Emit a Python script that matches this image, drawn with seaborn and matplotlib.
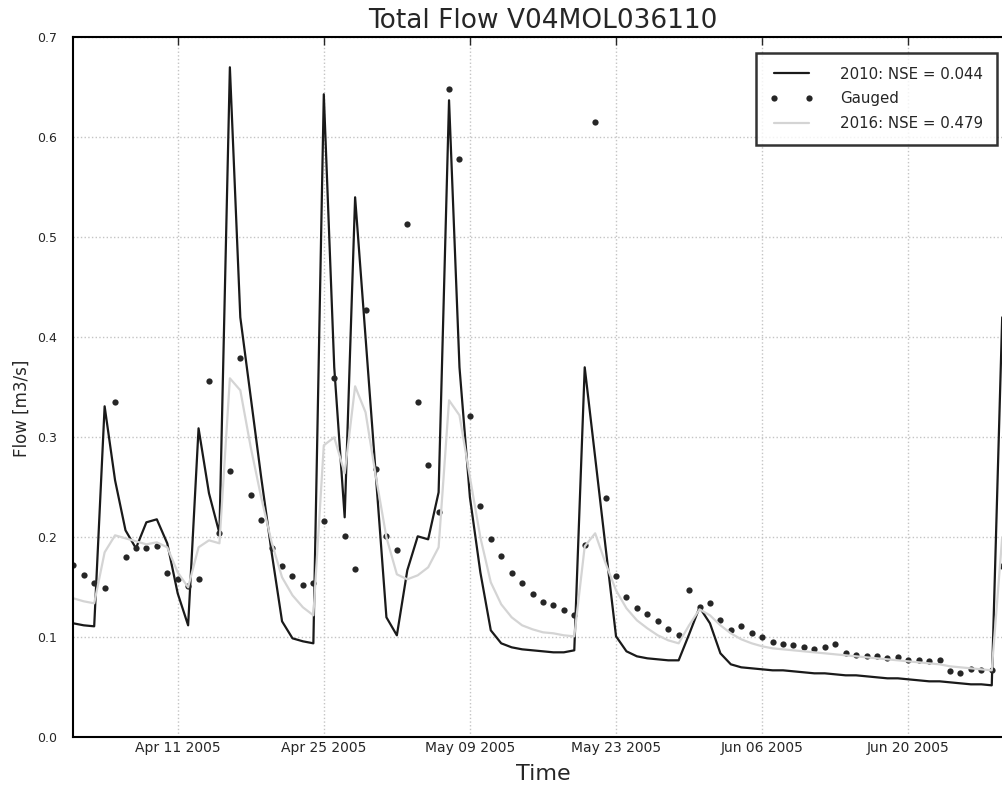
import pandas as pd
import matplotlib
matplotlib.use('Agg')
import matplotlib.pyplot as plt
import matplotlib.dates as mdates
import matplotlib.ticker as mticker
import seaborn as sns

start_date = '2005-04-01'

flow_2010 = [0.114, 0.112, 0.111, 0.331, 0.257, 0.207, 0.189, 0.215, 0.218, 0.194,
             0.144, 0.112, 0.309, 0.244, 0.204, 0.670, 0.420, 0.340, 0.260, 0.185,
             0.116, 0.099, 0.096, 0.094, 0.643, 0.370, 0.220, 0.540, 0.400, 0.260,
             0.120, 0.102, 0.167, 0.201, 0.198, 0.245, 0.637, 0.370, 0.240, 0.165,
             0.107, 0.094, 0.090, 0.088, 0.087, 0.086, 0.085, 0.085, 0.087, 0.370,
             0.280, 0.190, 0.101, 0.086, 0.081, 0.079, 0.078, 0.077, 0.077, 0.103,
             0.130, 0.114, 0.084, 0.073, 0.070, 0.069, 0.068, 0.067, 0.067, 0.066,
             0.065, 0.064, 0.064, 0.063, 0.062, 0.062, 0.061, 0.060, 0.059, 0.059,
             0.058, 0.057, 0.056, 0.056, 0.055, 0.054, 0.053, 0.053, 0.052, 0.420]

gauged = [0.172, 0.162, 0.154, 0.149, 0.335, 0.180, 0.189, 0.189, 0.191, 0.164,
          0.158, 0.151, 0.158, 0.356, 0.204, 0.266, 0.379, 0.242, 0.217, 0.189,
          0.171, 0.161, 0.152, 0.154, 0.216, 0.359, 0.201, 0.168, 0.427, 0.268,
          0.201, 0.187, 0.513, 0.335, 0.272, 0.225, 0.648, 0.578, 0.321, 0.231,
          0.198, 0.181, 0.164, 0.154, 0.143, 0.135, 0.132, 0.127, 0.122, 0.192,
          0.615, 0.239, 0.161, 0.140, 0.129, 0.123, 0.116, 0.108, 0.102, 0.147,
          0.130, 0.134, 0.117, 0.107, 0.111, 0.104, 0.100, 0.095, 0.093, 0.092,
          0.090, 0.088, 0.090, 0.093, 0.084, 0.082, 0.081, 0.081, 0.079, 0.080,
          0.077, 0.077, 0.076, 0.077, 0.066, 0.064, 0.068, 0.067, 0.067, 0.171]

flow_2016 = [0.139, 0.136, 0.134, 0.185, 0.202, 0.199, 0.196, 0.193, 0.195, 0.190,
             0.165, 0.150, 0.190, 0.197, 0.194, 0.359, 0.347, 0.290, 0.240, 0.195,
             0.160, 0.142, 0.130, 0.122, 0.292, 0.300, 0.264, 0.351, 0.325, 0.260,
             0.200, 0.163, 0.158, 0.162, 0.170, 0.190, 0.337, 0.322, 0.260, 0.200,
             0.155, 0.133, 0.120, 0.112, 0.108, 0.105, 0.104, 0.102, 0.101, 0.191,
             0.204, 0.174, 0.147, 0.129, 0.117, 0.109, 0.102, 0.097, 0.094, 0.112,
             0.128, 0.122, 0.112, 0.104, 0.098, 0.094, 0.091, 0.089, 0.088, 0.087,
             0.086, 0.085, 0.084, 0.083, 0.082, 0.081, 0.080, 0.079, 0.078, 0.077,
             0.076, 0.075, 0.074, 0.073, 0.071, 0.070, 0.069, 0.068, 0.067, 0.200]

tick_dates = ['2005-04-11', '2005-04-25', '2005-05-09', '2005-05-23', '2005-06-06', '2005-06-20']

df = pd.DataFrame({
    'Time': pd.date_range(start_date, periods=len(flow_2010), freq='D'),
    'flow_2010': flow_2010,
    'gauged': gauged,
    'flow_2016': flow_2016,
})

sns.set_style('white')
fig = plt.figure(figsize=(10.03, 7.93), dpi=100)
ax = fig.add_axes([0.0731, 0.0702, 0.9365, 0.8828])

sns.lineplot(data=df, x='Time', y='flow_2010', ax=ax, color='#1a1a1a', linewidth=1.6,
             label='2010: NSE = 0.044')
sns.lineplot(data=df, x='Time', y='gauged', ax=ax, color='#262626', linestyle='',
             marker='o', markersize=4.5, markeredgewidth=0, label='Gauged')
sns.lineplot(data=df, x='Time', y='flow_2016', ax=ax, color='#d4d4d4', linewidth=1.6,
             label='2016: NSE = 0.479')

ax.set_xlim(pd.Timestamp('2005-04-01'), pd.Timestamp('2005-06-30'))
ax.set_ylim(0, 0.7)
ax.set_xticks(pd.to_datetime(tick_dates))
ax.xaxis.set_major_formatter(mdates.DateFormatter('%b %d %Y'))
ax.yaxis.set_major_locator(mticker.MultipleLocator(0.1))
ax.yaxis.set_major_formatter(mticker.FormatStrFormatter('%.1f'))
ax.tick_params(axis='x', direction='in', top=True, length=6, width=1, labelsize=10, pad=3)
ax.tick_params(axis='y', direction='in', right=True, length=6, width=1, labelsize=9, pad=12)
ax.grid(True, linestyle=':', color='#c4c4c4', linewidth=1)

for sp in ax.spines.values():
    sp.set_color('black')
    sp.set_linewidth(1.5)

ax.set_title('Total Flow V04MOL036110', fontsize=19, pad=7)
ax.set_xlabel('Time', fontsize=16, labelpad=6)
ax.set_ylabel('Flow [m3/s]', fontsize=12, labelpad=8)
ax.yaxis.set_label_coords(-0.045, 0.47)

leg = ax.legend(loc='upper right', numpoints=2, fontsize=10.8, handlelength=2.9,
                labelspacing=0.65, borderpad=0.9, handletextpad=1.8,
                fancybox=False, frameon=True, borderaxespad=1.05)
leg.get_frame().set_edgecolor('black')
leg.get_frame().set_linewidth(1.8)

fig.savefig('out.png', dpi=100)
